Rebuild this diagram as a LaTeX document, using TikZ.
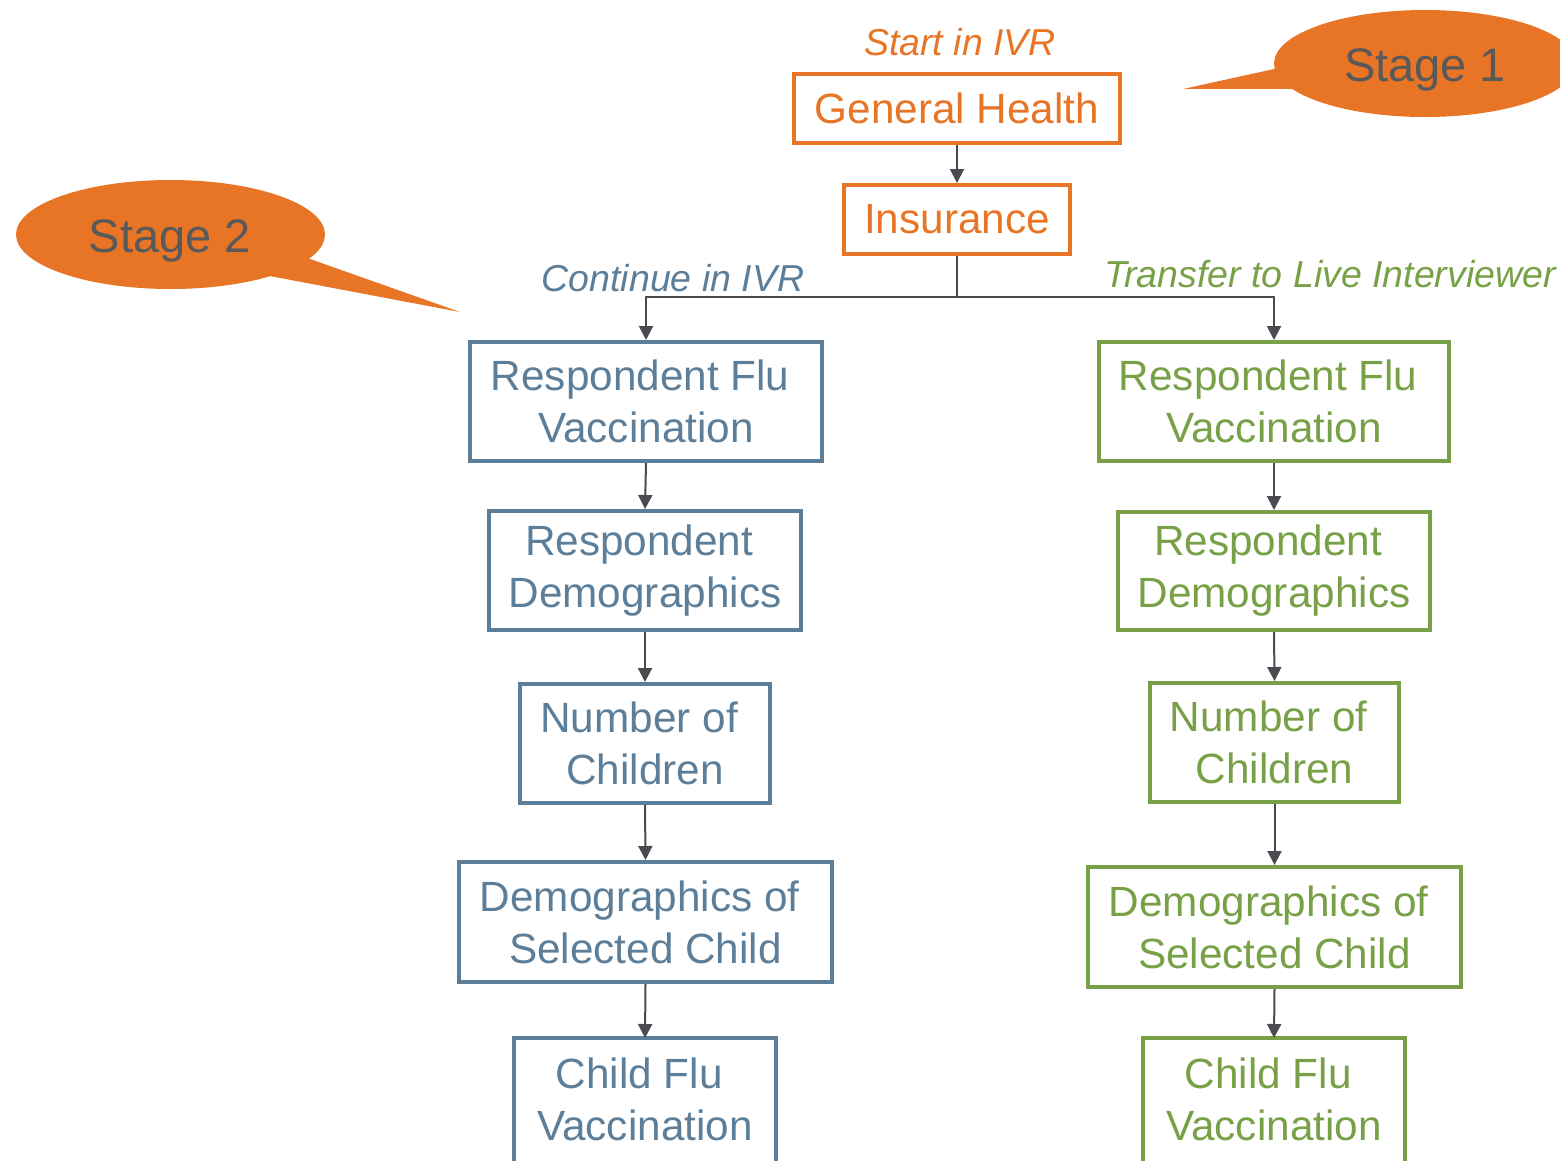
\documentclass[tikz,border=0pt]{standalone}
\usepackage{fontspec}
\setmainfont{Liberation Sans}
\usetikzlibrary{arrows.meta}
\definecolor{orng}{HTML}{E87526}
\definecolor{bubble}{HTML}{E87425}
\definecolor{bluec}{HTML}{5D7E98}
\definecolor{greenc}{HTML}{78A046}
\definecolor{stagegray}{HTML}{595959}
\definecolor{arrgray}{HTML}{4A4B50}
\newcommand{\tsp}{\kern11.7pt}
\tikzset{
  bx/.style={draw, line width=4pt, inner sep=0pt, align=center,
    font=\fontsize{42.3}{52}\selectfont},
  bxo/.style={bx, draw=orng, text=orng},
  bxb/.style={bx, draw=bluec, text=bluec},
  bxg/.style={bx, draw=greenc, text=greenc},
  openb/.style={bx, draw=none, text=#1},
  arr/.style={draw=arrgray, line width=2pt, -{Triangle[width=14pt,length=14pt]}},
  conn/.style={draw=arrgray, line width=2pt},
  lbl/.style={font=\fontsize{37.5}{40}\selectfont\itshape, anchor=base, inner sep=0pt},
  stagetxt/.style={font=\fontsize{47}{50}\selectfont, text=stagegray, inner sep=0pt}
}
\begin{document}
\begin{tikzpicture}[x=1pt,y=-1pt]
\useasboundingbox (0,0) rectangle (1560,1160);
% Stage bubbles
\fill[bubble] (1425,63.5) ellipse [x radius=151, y radius=53.5];
\fill[bubble] (1183,89) -- (1300,63.3) -- (1310,88.8) -- cycle;
\node[stagetxt] (s1) at (1425,70) {Stage 1};
\fill[bubble] (170.5,234.5) ellipse [x radius=154.5, y radius=54.5];
\fill[bubble] (460,312) -- (290,251.9) -- (255,273.2) -- cycle;
\node[stagetxt] (s2) at (170,241) {Stage 2};
% labels
\node[lbl, text=orng] (l0) at (960,55) {Start in IVR};
\node[lbl, text=bluec] (l1) at (673,291) {Continue in IVR};
\node[lbl, text=greenc] (l2) at (1330,287) {Transfer to Live Interviewer};
% top boxes
\node[bxo, minimum width=326pt, minimum height=69pt] (gh) at (957,108.5) {General Health};
\node[bxo, minimum width=226pt, minimum height=69pt] (ins) at (957,219.5) {Insurance};
% left column
\node[bxb, minimum width=352pt, minimum height=119pt] (b1) at (646,401.5) {Respondent Flu\tsp\\Vaccination};
\node[bxb, minimum width=312pt, minimum height=119pt] (b2) at (645,570.5) {Respondent\tsp\\Demographics};
\node[bxb, minimum width=250pt, minimum height=119pt] (b3) at (645,743.5) {Number of\tsp\\Children};
\node[bxb, minimum width=373pt, minimum height=120pt] (b4) at (645.5,922) {Demographics of\tsp\\Selected Child};
\node[openb=bluec, minimum width=258pt, minimum height=119pt] (b5) at (645,1099.5) {Child Flu\tsp\\Vaccination};
\draw[bluec, line width=4pt] ([yshift=-30pt]b5.south west) |- (b5.north east) -- ([yshift=-30pt]b5.south east);
% right column
\node[bxg, minimum width=350pt, minimum height=119pt] (g1) at (1274,401.5) {Respondent Flu\tsp\\Vaccination};
\node[bxg, minimum width=312pt, minimum height=118pt] (g2) at (1274,571) {Respondent\tsp\\Demographics};
\node[bxg, minimum width=249pt, minimum height=119pt] (g3) at (1274.5,742.5) {Number of\tsp\\Children};
\node[bxg, minimum width=373pt, minimum height=120pt] (g4) at (1274.5,927) {Demographics of\tsp\\Selected Child};
\node[openb=greenc, minimum width=258pt, minimum height=119pt] (g5) at (1274,1099.5) {Child Flu\tsp\\Vaccination};
\draw[greenc, line width=4pt] ([yshift=-30pt]g5.south west) |- (g5.north east) -- ([yshift=-30pt]g5.south east);
% connectors
\draw[arr] (gh.south) -- (ins.north);
\coordinate (jn) at (957,297);
\draw[conn] (ins.south) -- (jn);
\draw[arr] (jn) -| (b1.north);
\draw[arr] (jn) -| (g1.north);
\draw[arr] (b1.south) -- (b2.north);
\draw[arr] (b2.south) -- (b3.north);
\draw[arr] (b3.south) -- (b4.north);
\draw[arr] (b4.south) -- (b5.north);
\draw[arr] (g1.south) -- (g2.north);
\draw[arr] (g2.south) -- (g3.north);
\draw[arr] (g3.south) -- (g4.north);
\draw[arr] (g4.south) -- (g5.north);
\end{tikzpicture}
\end{document}
